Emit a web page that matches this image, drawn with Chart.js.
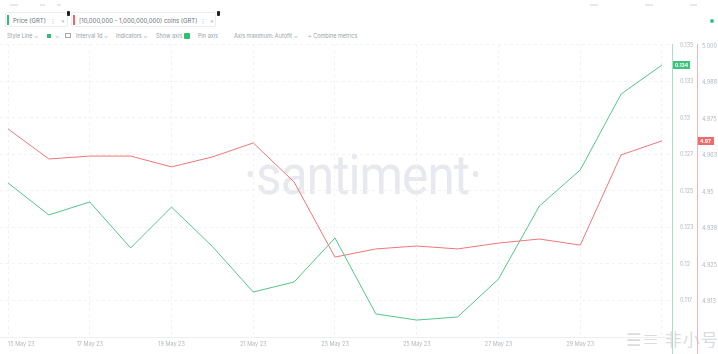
<!DOCTYPE html>
<html>
<head>
<meta charset="utf-8">
<title>GRT price vs holders</title>
<script src="https://cdn.jsdelivr.net/npm/chart.js@4"></script>
<style>
  html, body { margin: 0; padding: 0; background: #fff; }
  body { width: 718px; height: 354px; position: relative; overflow: hidden; font-family: Inter, Roboto, sans-serif; }
  .chip { position: absolute; top: 12px; height: 15px; border: 1px solid #eceef1; border-radius: 2px; background: #fff;
          font-size: 6px; color: #6b717b; line-height: 15px; box-sizing: border-box; white-space: nowrap; }
  .chip .bar { position: absolute; left: 1px; top: 2px; width: 2px; height: 10px; }
  .chip .txt { position: absolute; left: 7px; top: 0; }
  .chip .dots { position: absolute; top: 0; color: #b3b8bf; }
  .chip .x { position: absolute; top: 0; color: #a7acb3; }
  .pin { position: absolute; top: 11px; width: 3px; height: 5px; background: #222; border-radius: 1px; }
  .toolbar { position: absolute; top: 33px; left: 7px; font-size: 5.5px; color: #9a9fa7; white-space: nowrap; }
  .toolbar span { position: absolute; top: 0; }
  .sq { position: absolute; width: 4px; height: 4px; background: #2fbf71; top: 1px; }
  .chk { position: absolute; width: 6px; height: 6px; background: #2fbf71; border-radius: 1px; top: 0; }
  .cal { position: absolute; width: 6px; height: 5px; border: 1px solid #a4a9b0; top: 0; box-sizing: border-box; }
  .watermark { position: absolute; left: 244px; top: 143px; font-family: Roboto, sans-serif; font-size: 55px;
               color: #e7e9ee; letter-spacing: -1px; transform: scaleX(0.9); transform-origin: left top; white-space: nowrap; }
  .logo { position: absolute; left: 626px; top: 326px; font-family: "Noto Sans CJK SC", sans-serif; font-size: 17px;
          color: #dadcdf; white-space: nowrap; letter-spacing: 1px; }
  .faint { position: absolute; top: 4px; height: 2px; background: #e6e8eb; }
  #chart { position: absolute; left: 0; top: 0; }
</style>
</head>
<body>
<div class="faint" style="left:10px;width:8px"></div>
<div class="faint" style="left:40px;width:5px"></div>
<div class="faint" style="left:57px;width:4px"></div>
<div class="faint" style="left:590px;width:8px"></div>
<div class="faint" style="left:645px;width:8px"></div>
<div class="faint" style="left:690px;width:7px"></div>
<div style="position:absolute;left:710px;top:19px;width:4px;height:4px;border-radius:2px;background:#3cc47e"></div>

<div class="chip" style="left:5px;width:63px">
  <div class="bar" style="background:#2fbf71"></div>
  <div class="txt">Price (GRT)</div>
  <div class="dots" style="left:44px">&#8942;</div>
  <div class="x" style="left:55px">&#215;</div>
</div>
<div class="pin" style="left:67px"></div>
<div class="chip" style="left:71px;width:145px">
  <div class="bar" style="background:#ef6565"></div>
  <div class="txt">[10,000,000 - 1,000,000,000) coins (GRT)</div>
  <div class="dots" style="left:128px">&#8942;</div>
  <div class="x" style="left:138px">&#215;</div>
</div>
<div class="pin" style="left:217px"></div>

<div class="toolbar">
  <span style="left:0">Style Line &#8964;</span>
  <div class="sq" style="left:40px"></div>
  <span style="left:48px">&#8964;</span>
  <div class="cal" style="left:58px"></div>
  <span style="left:69px">Interval 1d &#8964;</span>
  <span style="left:109px">Indicators &#8964;</span>
  <span style="left:149px">Show axis</span>
  <div class="chk" style="left:177px"></div>
  <span style="left:191px">Pin axis</span>
  <span style="left:227px">Axis maximum: Autofit &#8964;</span>
  <span style="left:301px">+ Combine metrics</span>
</div>

<div class="watermark">&#183;santiment&#183;</div>
<div class="logo">&#9776;&#8801; 非小号</div>

<canvas id="chart" width="718" height="354"></canvas>

<script>
// Daily values, 15 - 31 May 2023
const dates = ['15 May 23', '16 May 23', '17 May 23', '18 May 23', '19 May 23', '20 May 23',
  '21 May 23', '22 May 23', '23 May 23', '24 May 23', '25 May 23', '26 May 23', '27 May 23',
  '28 May 23', '29 May 23', '30 May 23', '31 May 23'];

// Price (GRT), USD
const priceValues = [0.12555, 0.12336, 0.12425, 0.12110, 0.12390, 0.12120, 0.11808, 0.11877,
  0.12178, 0.11658, 0.11616, 0.11637, 0.11897, 0.12397, 0.12644, 0.13164, 0.13363];

// Holdings of [10M - 1B) coin wallets, billions of GRT
const holdingValues = [4.9716, 4.9613, 4.9623, 4.9623, 4.9586, 4.9620, 4.9668, 4.9534,
  4.9277, 4.9305, 4.9315, 4.9305, 4.9325, 4.9339, 4.9318, 4.9627, 4.9675];

// Axis ticks as shown on the right side
const priceTicks = [0.135, 0.1325, 0.13, 0.1275, 0.125, 0.1225, 0.12, 0.1175];
const priceTickLabels = ['0.135', '0.133', '0.13', '0.127', '0.125', '0.123', '0.12', '0.117'];
const holdingTicks = [5.0, 4.9875, 4.975, 4.9625, 4.95, 4.9375, 4.925, 4.9125];
const holdingTickLabels = ['5.000', '4.988', '4.975', '4.963', '4.95', '4.938', '4.925', '4.913'];

const GREEN = '#52c689';
const RED = '#f07676';
const TICK_COLOR = '#b3b7be';

(function() {
  'use strict';

  // Extends the pinned axis lines to the bottom and draws the last-value badges
  const axisExtras = {
    id: 'axisExtras',
    afterDraw(chart) {
      const ctx = chart.ctx;
      const yP = chart.scales.y;
      const yH = chart.scales.y1;

      ctx.save();
      ctx.lineWidth = 1;
      ctx.strokeStyle = '#a9dfc3';
      ctx.beginPath();
      ctx.moveTo(yP.left + 0.5, yP.bottom);
      ctx.lineTo(yP.left + 0.5, chart.height);
      ctx.stroke();
      ctx.strokeStyle = '#f1b3b3';
      ctx.beginPath();
      ctx.moveTo(yH.left + 0.5, yH.bottom);
      ctx.lineTo(yH.left + 0.5, chart.height);
      ctx.stroke();

      drawBadge(ctx, yP.left + 1, yP.getPixelForValue(priceValues[priceValues.length - 1]),
        17, '#3cc27e', priceValues[priceValues.length - 1].toFixed(3));
      drawBadge(ctx, yH.left + 1, yH.getPixelForValue(holdingValues[holdingValues.length - 1]),
        16, '#ee6b6b', holdingValues[holdingValues.length - 1].toFixed(2));
      ctx.restore();
    }
  };

  function drawBadge(ctx, x, y, w, color, text) {
    ctx.fillStyle = color;
    ctx.fillRect(x, Math.round(y) - 4, w, 8);
    ctx.fillStyle = '#fff';
    ctx.font = 'bold 5px Inter, Roboto, sans-serif';
    ctx.textBaseline = 'middle';
    ctx.textAlign = 'left';
    ctx.fillText(text, x + 2, Math.round(y) + 0.5);
  }

  function setTicks(values) {
    return function(scale) {
      scale.ticks = values.slice().sort((a, b) => a - b).map(v => ({ value: v }));
    };
  }

  function initChart() {
    const ctx = document.getElementById('chart');

    new Chart(ctx, {
      type: 'line',
      data: {
        datasets: [{
          label: 'Price (GRT)',
          data: priceValues.map((v, i) => ({ x: i, y: v })),
          borderColor: GREEN,
          borderWidth: 1,
          pointRadius: 0,
          tension: 0,
          yAxisID: 'y'
        }, {
          label: '[10,000,000 - 1,000,000,000) coins (GRT)',
          data: holdingValues.map((v, i) => ({ x: i, y: v })),
          borderColor: RED,
          borderWidth: 1,
          pointRadius: 0,
          tension: 0,
          yAxisID: 'y1'
        }]
      },
      options: {
        responsive: false,
        animation: false,
        layout: { padding: { top: 44, left: 0, right: 0, bottom: 0 } },
        plugins: {
          legend: { display: false },
          tooltip: { enabled: false }
        },
        scales: {
          x: {
            type: 'linear',
            min: -0.196,
            max: 16.245,
            afterBuildTicks: function(scale) {
              scale.ticks = dates.map((d, i) => ({ value: i })).filter(t => t.value % 2 === 0);
            },
            afterFit: function(scale) { scale.height = 17; },
            ticks: {
              autoSkip: false,
              maxRotation: 0,
              align: 'inner',
              padding: 4,
              color: TICK_COLOR,
              font: { size: 5.5, family: 'Inter, Roboto, sans-serif' },
              callback: v => (v < dates.length - 1 ? dates[v] : '')
            },
            grid: { color: '#f1f2f5', drawTicks: false },
            border: { display: true, color: '#eceef1', dash: [3, 3] }
          },
          y: {
            position: 'right',
            weight: 0,
            min: 0.115,
            max: 0.135068,
            afterBuildTicks: setTicks(priceTicks),
            afterFit: function(scale) { scale.width = 25; },
            ticks: {
              padding: 8,
              color: TICK_COLOR,
              font: { size: 5.5, family: 'Inter, Roboto, sans-serif' },
              callback: v => priceTickLabels[priceTicks.indexOf(v)]
            },
            grid: { color: '#f1f2f5', drawTicks: false },
            border: { display: true, color: '#a9dfc3', dash: [3, 3] }
          },
          y1: {
            position: 'right',
            weight: 1,
            min: 4.90034,
            max: 5.00068,
            afterBuildTicks: setTicks(holdingTicks),
            afterFit: function(scale) { scale.width = 21; },
            ticks: {
              padding: 5,
              color: TICK_COLOR,
              font: { size: 5.5, family: 'Inter, Roboto, sans-serif' },
              callback: v => holdingTickLabels[holdingTicks.indexOf(v)]
            },
            grid: { drawOnChartArea: false, drawTicks: false },
            border: { display: true, color: '#f1b3b3' }
          }
        }
      },
      plugins: [axisExtras]
    });
  }

  initChart();
})();
</script>
</body>
</html>
